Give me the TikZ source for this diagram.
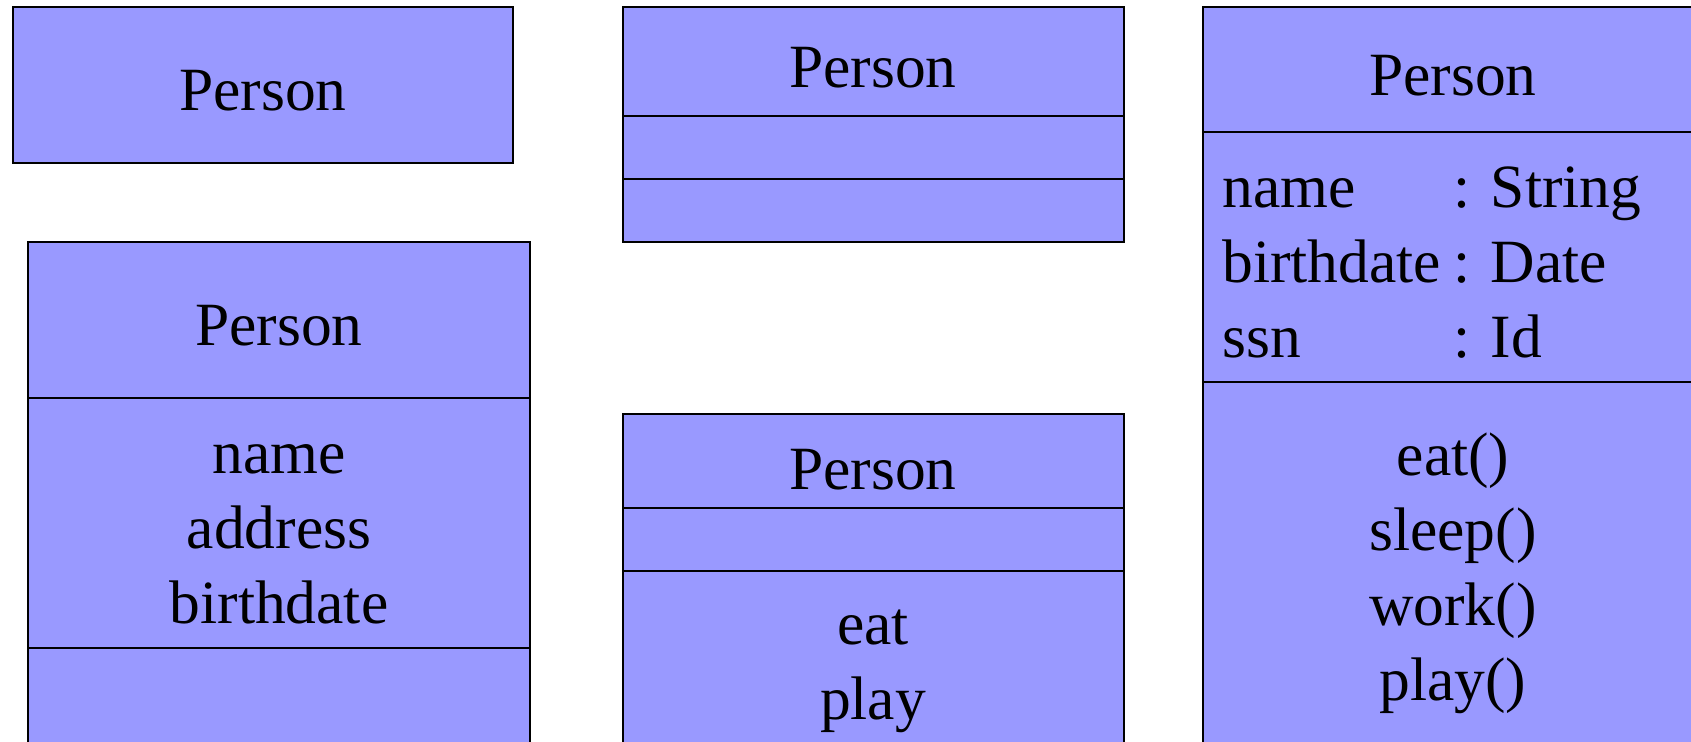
\documentclass[tikz,border=0pt]{standalone}
\usepackage{fontspec}
\setmainfont{Liberation Serif}
\definecolor{classfill}{HTML}{9999FF}
\tikzset{
  classbox/.style={draw=black,line width=1.1pt,fill=classfill},
  divider/.style={line width=1.1pt},
  % one line of text, placed by its baseline
  txt/.style={font=\fontsize{35}{42}\selectfont,anchor=base,inner sep=0},
  txtl/.style={txt,anchor=base west},
}

\begin{document}
\begin{tikzpicture}[x=0.02cm,y=-0.02cm]
  \clip (0,0) rectangle (1691,741);
  % (1) the class name alone
  \draw[classbox] (13,7) rectangle (513,163);
  \node[txt] (nameA) at (263,110) {Person};
  % (2) name and attributes, no operations
  \draw[classbox] (28,242) rectangle (530,780);
  \draw[divider] (28,398) -- (530,398);
  \draw[divider] (28,648) -- (530,648);
  \node[txt] (nameB) at (279,345) {Person};
  \node[txt] (attrB1) at (279,473) {name};
  \node[txt] (attrB2) at (279,548) {address};
  \node[txt] (attrB3) at (279,623) {birthdate};
  % (3) name with two empty compartments
  \draw[classbox] (623,7) rectangle (1124,242);
  \draw[divider] (623,116) -- (1124,116);
  \draw[divider] (623,179) -- (1124,179);
  \node[txt] (nameC) at (873,87) {Person};
  % (4) name and operations
  \draw[classbox] (623,414) rectangle (1124,780);
  \draw[divider] (623,508) -- (1124,508);
  \draw[divider] (623,571) -- (1124,571);
  \node[txt] (nameD) at (873,489) {Person};
  \node[txt] (opD1) at (873,644) {eat};
  \node[txt] (opD2) at (873,719) {play};
  % (5) typed attributes and operations
  \draw[classbox] (1203,7) rectangle (1703,780);
  \draw[divider] (1203,132) -- (1703,132);
  \draw[divider] (1203,382) -- (1703,382);
  \node[txt] (nameE) at (1453,95) {Person};
  \node[txtl] (attrE1) at (1222,207) {name};
  \node[txtl] (attrE2) at (1222,282) {birthdate};
  \node[txtl] (attrE3) at (1222,357) {ssn};
  \node[txtl] (typeE1) at (1453,207) {: String};
  \node[txtl] (typeE2) at (1453,282) {: Date};
  \node[txtl] (typeE3) at (1453,357) {: Id};
  \node[txt] (opE1) at (1453,475) {eat()};
  \node[txt] (opE2) at (1453,550) {sleep()};
  \node[txt] (opE3) at (1453,625) {work()};
  \node[txt] (opE4) at (1453,700) {play()};
\end{tikzpicture}
\end{document}
